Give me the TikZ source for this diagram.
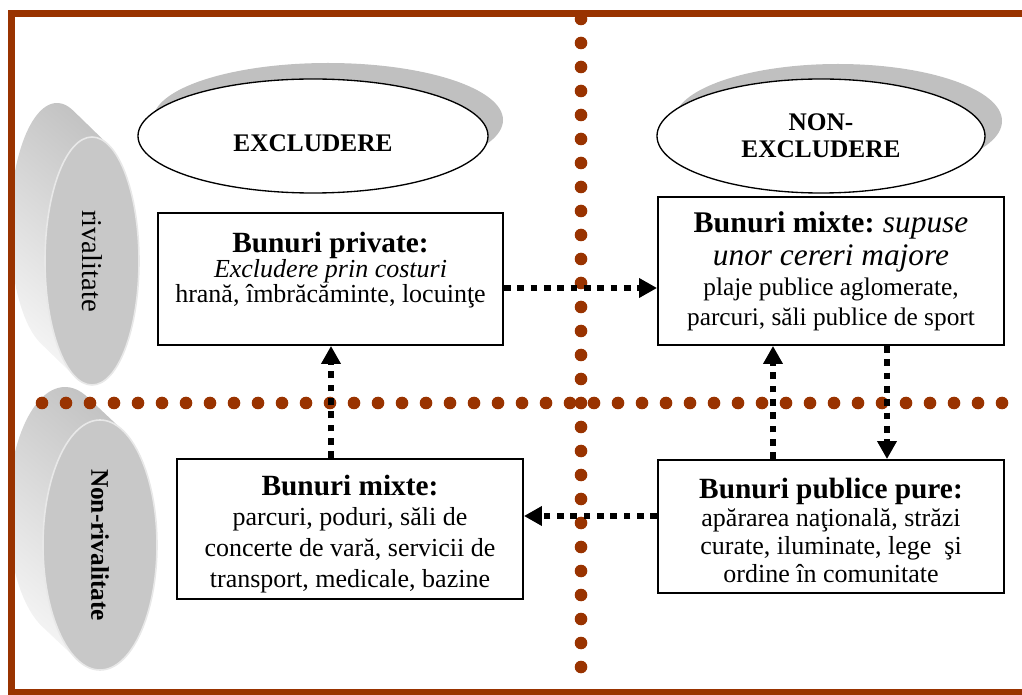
\documentclass[tikz,border=0pt]{standalone}
\usepackage{fontspec}
\setmainfont{Liberation Serif}
\usetikzlibrary{arrows.meta,shapes.geometric}
\definecolor{framebrown}{RGB}{153,51,0}
\definecolor{facegray}{RGB}{200,200,200}
\definecolor{rimgray}{RGB}{232,232,232}
\definecolor{shadowgray}{RGB}{192,192,192}
\newcommand\tightlines{\lineskiplimit -30pt\relax\lineskip 0pt\relax}
\begin{document}
\begin{tikzpicture}[x=0.75pt,y=-0.75pt,
  box/.style={draw=black, line width=1.4pt, fill=white, align=center, inner sep=0pt,
              font={\fontsize{19.5}{18.75}\selectfont\tightlines}},
  flow/.style={line width=5pt, dash pattern=on 5pt off 5pt,
               -{Triangle[length=13.5pt,width=14pt]}},
  bigell/.style={ellipse, draw=black, line width=1pt, fill=white, inner sep=0pt,
                 font=\bfseries\fontsize{19}{20.25}\selectfont, align=center},
  face/.style={ellipse, draw=rimgray, line width=1.2pt, fill=facegray, inner sep=0pt},
  side/.style={shading=axis, bottom color=gray!8, middle color=gray!16, top color=gray!48, shading angle=-40},
  bdot/.style={fill=framebrown}]
\useasboundingbox (0,0) rectangle (1022,695);

% ---- rivalitate disc
\shade[side] plot[domain=110.21:290.21, samples=60] ({57+47*cos(\x)},{227+124*sin(\x)})
  -- plot[domain=290.21:470.21, samples=60] ({92+47*cos(\x)},{261+124*sin(\x)}) -- cycle;
\node[face, rotate=-90, minimum width=186pt, minimum height=70.5pt,
      font=\fontsize{21.5}{22}\selectfont] (riv) at (92,261) {rivalitate};

% ---- Non-rivalitate disc
\shade[side] plot[domain=113.26:293.26, samples=60] ({65+57*cos(\x)},{512+125*sin(\x)})
  -- plot[domain=293.26:473.26, samples=60] ({100+57*cos(\x)},{545+125*sin(\x)}) -- cycle;
\node[face, rotate=-90, minimum width=187.5pt, minimum height=85.5pt,
      font=\bfseries\fontsize{19}{20}\selectfont] (nriv) at (100,545) {Non-rivalitate};

% ---- header ellipses with shadows
\fill[shadowgray] (328,120) ellipse [x radius=175, y radius=57];
\node[bigell, minimum width=262.5pt, minimum height=85.5pt, text height=23pt, text depth=0pt]
  (excl) at (313,136) {EXCLUDERE};
\fill[shadowgray] (838,121) ellipse [x radius=164, y radius=57];
\node[bigell, minimum width=246pt, minimum height=85.5pt] (nexcl) at (821,136) {NON-\\EXCLUDERE};

% ---- boxes
\node[box, minimum width=258.75pt, minimum height=99pt] (b1) at (330.5,279)
  {{\bfseries\fontsize{22}{18.75}\selectfont Bunuri private:}\\
   \textit{Excludere prin costuri}\\
   hrană, îmbrăcăminte, locuinţe\rule[-17.5pt]{0pt}{17.5pt}};
\node[box, minimum width=259.5pt, minimum height=111pt, font={\fontsize{19}{22.5}\selectfont}] (b2) at (831,271)
  {{\bfseries\fontsize{22.5}{22.5}\selectfont Bunuri mixte:} {\itshape\fontsize{23.5}{22.5}\selectfont supuse}\\[2.5pt]
   {\itshape\fontsize{23.5}{22.5}\selectfont unor cereri majore}\\
   plaje publice aglomerate,\\
   parcuri, săli publice de sport};
\node[box, minimum width=259.5pt, minimum height=105pt, font={\fontsize{19.5}{23}\selectfont}] (b3) at (350,529)
  {\rule{0pt}{22.5pt}{\bfseries\fontsize{22}{23}\selectfont Bunuri mixte:}\\
   parcuri, poduri, săli de\\
   concerte de vară, servicii de\\
   transport, medicale, bazine};
\node[box, minimum width=259.5pt, minimum height=99.75pt, font={\fontsize{19.5}{21}\selectfont}] (b4) at (831,526.5)
  {\rule{0pt}{21pt}{\bfseries\fontsize{22}{21}\selectfont Bunuri publice pure:}\\
   apărarea naţională, străzi\\
   curate, iluminate, lege\ \ şi\\
   ordine în comunitate};

% ---- brown dotted axes
\foreach \i in {0,...,27} \fill[bdot] (581,19+24*\i) circle [radius=6.3];
\foreach \i in {0,...,40} \fill[bdot] (42+24*\i,403) circle [radius=6.3];

% ---- flows
\draw[flow] ([yshift=-6.75pt]b1.east) -- ([yshift=-12.75pt]b2.west);
\draw[flow] ([xshift=-14.25pt]b3.north) -- ([xshift=0.375pt]b1.south);
\draw[flow] ([yshift=7.875pt]b4.west) -- ([yshift=9.75pt]b3.east);
\draw[flow] ([xshift=-43.5pt]b4.north) -- ([xshift=-43.5pt]b2.south);
\draw[flow] ([xshift=42pt]b2.south) -- ([xshift=42pt]b4.north);

% ---- frame
\draw[framebrown, line width=5.25pt, line join=miter] (1022,13.5) -- (11,13.5) -- (11,692) -- (1022,692);
\end{tikzpicture}
\end{document}
